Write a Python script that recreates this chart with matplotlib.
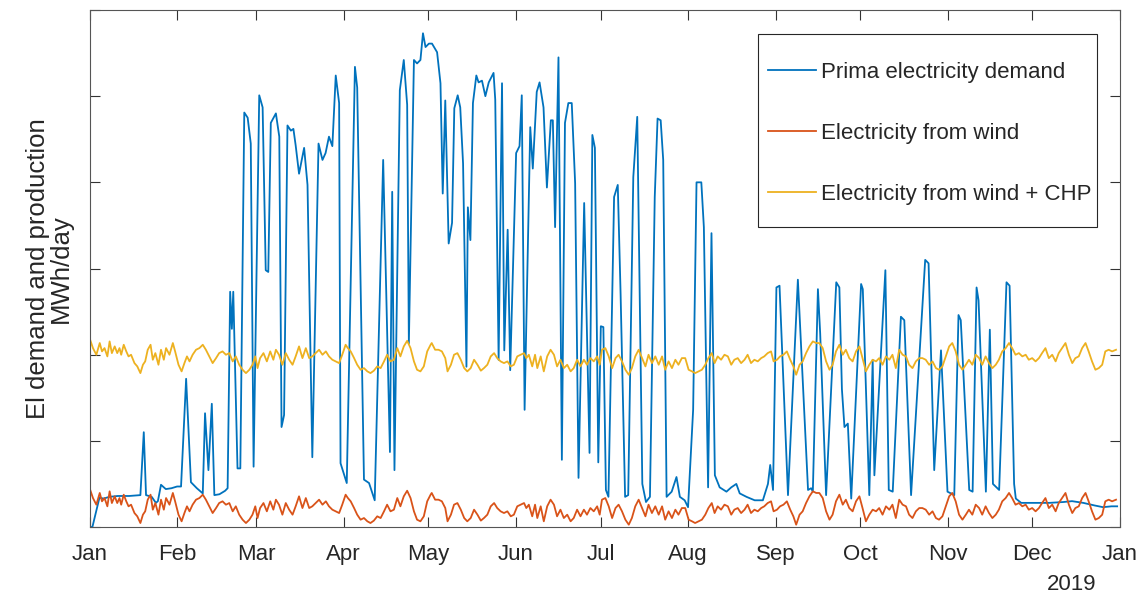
import matplotlib.pyplot as plt
from matplotlib.patches import Rectangle

plt.rcParams['font.family'] = ['Liberation Sans', 'DejaVu Sans']

months = ['Jan', 'Feb', 'Mar', 'Apr', 'May', 'Jun', 'Jul',
          'Aug', 'Sep', 'Oct', 'Nov', 'Dec', 'Jan']
month_start = [0, 31, 59, 90, 120, 151, 181, 212, 243, 273, 304, 334, 365]

# daily demand (day of year, MWh/day)
demand_day = [0.0, 1.0, 3.5, 5, 7, 10, 14, 18, 19.2, 20.0, 22, 23.5, 24.2, 25.3, 27, 29, 31, 32.4,
              34.2, 35.9, 38, 40.1, 40.9, 42.1, 43.3, 44.2, 46, 48, 48.9, 49.8, 50.4, 50.9, 52.4,
              53.4, 54.8, 56.0, 57.1, 58.1, 60.1, 61.3, 62.4, 63.3, 64.2, 66.0, 67.2, 68.0, 68.9,
              70.1, 71.3, 72.2, 73.0, 74.2, 76.0, 77.2, 78.9, 81.1, 82.5, 83.6, 84.8, 86.0, 87.2,
              88.4, 88.9, 91.1, 94.0, 94.8, 97.2, 99.0, 101.0, 104.0, 106.4, 107.2, 108.0, 109.9,
              111.3, 112.5, 113.1, 114.9, 116.0, 117.2, 118.1, 119.0, 120.2, 121.3, 123.1, 124.3,
              125.1, 126.0, 127.2, 128.4, 129.2, 130.4, 131.3, 132.3, 133.5, 134.0, 134.9, 135.8,
              137.0, 137.8, 139.0, 140.2, 141.4, 143.1, 143.7, 144.9, 146.1, 146.9, 148.1, 149.0,
              151.1, 152.3, 153.1, 154.1, 156.1, 157.0, 158.4, 159.4, 160.8, 162.0, 163.4, 164.1,
              164.9, 166.1, 167.3, 168.4, 169.6, 170.8, 172.0, 173.2, 175.2, 177.1, 178.1, 179.0,
              180.2, 181.1, 182.0, 182.9, 183.8, 185.8, 187.1, 188.1, 189.7, 190.8, 192.6, 194.0,
              195.8, 197.1, 198.5, 200.2, 201.2, 202.3, 203.2, 204.4, 206.2, 207.9, 209.1, 210.8,
              212.0, 213.8, 215.0, 216.7, 217.6, 219.1, 220.3, 221.5, 223.2, 225.6, 227.3, 229.1,
              230.3, 232.7, 235.6, 238.5, 240.3, 241.1, 242.1, 243.3, 244.4, 247.4, 250.9, 254.5,
              255.6, 256.2, 258.0, 258.8, 260.9, 264.5, 265.6, 266.5, 267.4, 268.6, 269.8, 273.3,
              273.9, 276.2, 277.4, 278.0, 281.9, 283.1, 284.5, 287.4, 288.6, 291.0, 296.0, 297.2,
              299.2, 301.6, 303.9, 306.3, 307.8, 308.6, 311.6, 312.8, 314.2, 314.9, 317.5, 318.9,
              320.0, 322.2, 324.8, 325.9, 327.5, 328.1, 330, 335, 340, 345, 348, 352, 356, 359,
              362, 364]
demand = [0.0, 0.0, 0.34, 0.33, 0.35, 0.36, 0.36, 0.37, 1.10, 0.37, 0.35, 0.28, 0.30, 0.49, 0.44,
          0.45, 0.47, 0.47, 1.72, 0.52, 0.45, 0.39, 1.32, 0.66, 1.43, 0.37, 0.38, 0.42, 0.45, 2.73,
          2.30, 2.73, 0.68, 0.68, 4.81, 4.75, 4.45, 0.70, 5.01, 4.87, 2.98, 2.96, 4.69, 4.80, 4.53,
          1.16, 1.30, 4.66, 4.60, 4.62, 4.43, 4.10, 4.40, 3.97, 0.81, 4.45, 4.26, 4.34, 4.53, 4.42,
          5.24, 4.92, 0.74, 0.51, 5.34, 5.10, 0.55, 0.51, 0.31, 4.26, 0.87, 3.89, 0.66, 5.07, 5.42,
          4.90, 2.13, 5.42, 5.38, 5.42, 5.73, 5.57, 5.61, 5.61, 5.51, 5.15, 3.87, 4.95, 3.29, 3.53,
          4.86, 5.01, 4.87, 4.22, 1.86, 3.71, 3.33, 4.92, 5.24, 5.16, 5.18, 5.00, 5.16, 5.27, 4.96,
          1.94, 5.15, 2.05, 3.45, 1.82, 4.34, 4.42, 5.01, 1.36, 4.64, 4.16, 5.05, 5.16, 4.87, 3.94,
          4.72, 4.72, 3.48, 5.45, 0.78, 4.69, 4.92, 4.92, 3.99, 0.57, 3.76, 0.86, 4.55, 4.40, 0.75,
          2.33, 2.32, 0.43, 0.35, 3.83, 3.97, 2.71, 0.35, 0.37, 4.06, 4.76, 0.50, 0.29, 0.35, 3.83,
          4.74, 4.72, 4.26, 0.35, 0.41, 0.58, 0.35, 0.31, 0.23, 1.36, 4.00, 4.00, 3.48, 0.46, 3.41,
          0.60, 0.46, 0.41, 0.46, 0.50, 0.39, 0.35, 0.31, 0.31, 0.50, 0.72, 0.43, 2.78, 2.80, 0.37,
          2.87, 0.43, 0.45, 0.41, 2.76, 2.25, 0.37, 2.84, 2.78, 1.60, 1.16, 1.20, 0.33, 2.82, 2.76,
          0.37, 1.94, 0.60, 2.98, 0.43, 0.41, 2.44, 2.40, 0.37, 3.10, 3.06, 0.66, 2.05, 0.41, 0.37,
          2.46, 2.40, 0.43, 0.41, 2.78, 2.63, 0.41, 2.29, 0.50, 0.43, 2.84, 2.80, 0.50, 0.33, 0.28,
          0.28, 0.28, 0.29, 0.30, 0.28, 0.25, 0.23, 0.24, 0.24]

# wind production (day of year, MWh/day)
wind_day = [0.0, 1.2, 2.4, 3.6, 4.4, 5.3, 6.3, 7.1, 7.9, 8.9, 9.8, 10.6, 11.2, 12.1, 13.0, 13.8,
            14.7, 15.9, 16.9, 18.0, 18.9, 19.7, 20.6, 21.6, 22.4, 23.3, 24.4, 25.3, 26.3, 27.1,
            28.3, 29.5, 30.3, 31.5, 32.6, 33.6, 34.5, 35.4, 36.5, 37.7, 38.9, 40.1, 41.2, 42.4,
            43.6, 44.8, 45.9, 47.1, 48.3, 49.5, 50.7, 51.8, 53.0, 54.2, 55.4, 56.6, 57.7, 58.7,
            59.5, 60.4, 61.6, 62.8, 64.0, 65.1, 66.0, 67.1, 68.3, 69.5, 70.7, 71.9, 73.0, 74.2,
            75.4, 76.6, 77.8, 78.9, 80.1, 81.3, 82.5, 83.7, 84.8, 86.0, 87.2, 88.4, 89.5, 90.7,
            91.5, 92.5, 93.7, 94.8, 96.0, 97.2, 98.4, 99.5, 100.7, 101.9, 103.1, 104.3, 105.4,
            106.6, 107.8, 109.0, 110.1, 111.3, 112.5, 113.7, 114.9, 116.0, 117.2, 118.4, 119.6,
            120.8, 121.2, 122.4, 123.6, 124.8, 126.0, 126.8, 128.0, 129.1, 130.3, 131.5, 132.7,
            133.8, 135.0, 136.2, 137.4, 138.6, 139.7, 140.9, 142.1, 143.3, 144.4, 145.6, 146.8,
            148.0, 149.2, 150.3, 151.5, 152.7, 153.9, 154.7, 155.6, 156.8, 157.8, 158.6, 159.8,
            160.9, 162.1, 163.3, 164.5, 165.6, 166.8, 168.0, 169.2, 170.4, 171.5, 172.7, 173.9,
            175.1, 176.2, 177.4, 178.6, 179.8, 180.7, 181.5, 182.7, 183.9, 185.1, 186.3, 187.4,
            188.6, 189.8, 191.0, 192.1, 193.3, 194.5, 195.7, 196.9, 198.0, 199.2, 200.4, 201.6,
            202.8, 203.9, 205.1, 206.3, 207.5, 208.6, 209.8, 211.0, 212.2, 213.4, 214.5, 215.7,
            216.9, 218.1, 219.2, 220.4, 221.4, 222.5, 223.7, 224.9, 226.1, 227.3, 228.4, 229.6,
            230.8, 232.0, 233.1, 234.3, 235.5, 236.7, 237.9, 239.0, 240.2, 241.4, 242.3, 243.5,
            244.6, 245.8, 247.0, 248.2, 249.3, 250.3, 251.5, 252.6, 253.8, 255.0, 256.2, 257.4,
            258.5, 259.7, 260.9, 262.1, 263.2, 264.4, 265.6, 266.8, 267.9, 269.1, 270.3, 271.5,
            272.7, 273.8, 275.0, 276.2, 277.4, 278.6, 279.7, 280.9, 282.1, 283.3, 284.4, 285.6,
            286.8, 288.0, 289.2, 290.3, 291.5, 292.7, 293.9, 295.0, 296.2, 297.4, 298.6, 299.8,
            300.9, 302.1, 303.3, 304.5, 305.6, 306.8, 308.0, 309.2, 310.4, 311.5, 312.7, 313.9,
            315.1, 316.2, 317.4, 318.6, 319.8, 321.0, 322.1, 323.3, 324.5, 325.7, 326.8, 328.0,
            329.2, 330.4, 331.6, 332.7, 333.9, 335.1, 336.3, 337.4, 338.6, 339.8, 341.0, 342.2,
            343.3, 344.5, 345.7, 346.9, 348.1, 349.2, 350.4, 351.6, 352.8, 353.9, 355.1, 356.3,
            357.5, 358.7, 359.8, 361.0, 362.2, 363.6]
wind = [0.452, 0.336, 0.259, 0.395, 0.298, 0.336, 0.240, 0.414, 0.278, 0.356, 0.278, 0.336, 0.259,
        0.375, 0.298, 0.240, 0.259, 0.162, 0.124, 0.046, 0.143, 0.182, 0.317, 0.375, 0.201, 0.278,
        0.143, 0.317, 0.201, 0.336, 0.259, 0.395, 0.298, 0.143, 0.066, 0.162, 0.240, 0.182, 0.259,
        0.317, 0.336, 0.375, 0.317, 0.240, 0.162, 0.220, 0.278, 0.298, 0.259, 0.278, 0.182, 0.240,
        0.143, 0.085, 0.046, 0.085, 0.143, 0.240, 0.104, 0.220, 0.278, 0.182, 0.298, 0.201, 0.317,
        0.259, 0.143, 0.278, 0.201, 0.143, 0.240, 0.356, 0.220, 0.336, 0.220, 0.240, 0.278, 0.317,
        0.259, 0.298, 0.240, 0.201, 0.182, 0.162, 0.259, 0.375, 0.336, 0.298, 0.220, 0.143, 0.085,
        0.104, 0.066, 0.046, 0.074, 0.124, 0.104, 0.182, 0.259, 0.182, 0.201, 0.336, 0.240, 0.356,
        0.421, 0.336, 0.182, 0.085, 0.066, 0.124, 0.298, 0.375, 0.395, 0.317, 0.317, 0.298, 0.220,
        0.066, 0.143, 0.259, 0.278, 0.201, 0.104, 0.066, 0.104, 0.201, 0.143, 0.074, 0.104, 0.143,
        0.240, 0.278, 0.220, 0.182, 0.162, 0.182, 0.124, 0.143, 0.240, 0.259, 0.278, 0.220, 0.259,
        0.124, 0.259, 0.104, 0.240, 0.066, 0.240, 0.317, 0.259, 0.124, 0.201, 0.104, 0.143, 0.066,
        0.104, 0.201, 0.124, 0.201, 0.143, 0.220, 0.182, 0.240, 0.143, 0.317, 0.336, 0.240, 0.104,
        0.220, 0.259, 0.182, 0.085, 0.027, 0.104, 0.240, 0.317, 0.220, 0.124, 0.259, 0.162, 0.240,
        0.143, 0.240, 0.085, 0.182, 0.104, 0.201, 0.143, 0.220, 0.220, 0.085, 0.066, 0.046, 0.066,
        0.085, 0.143, 0.220, 0.278, 0.162, 0.240, 0.201, 0.259, 0.240, 0.143, 0.201, 0.220, 0.162,
        0.201, 0.259, 0.162, 0.201, 0.182, 0.220, 0.240, 0.278, 0.298, 0.182, 0.201, 0.240, 0.259,
        0.298, 0.201, 0.124, 0.027, 0.143, 0.182, 0.278, 0.356, 0.414, 0.395, 0.395, 0.336, 0.182,
        0.085, 0.143, 0.298, 0.375, 0.259, 0.317, 0.220, 0.182, 0.298, 0.356, 0.220, 0.066, 0.143,
        0.201, 0.182, 0.220, 0.143, 0.240, 0.201, 0.259, 0.104, 0.317, 0.259, 0.240, 0.143, 0.104,
        0.182, 0.220, 0.220, 0.201, 0.143, 0.182, 0.104, 0.085, 0.124, 0.240, 0.356, 0.395, 0.298,
        0.143, 0.085, 0.143, 0.201, 0.143, 0.259, 0.220, 0.143, 0.240, 0.162, 0.104, 0.143, 0.201,
        0.298, 0.336, 0.395, 0.336, 0.259, 0.278, 0.240, 0.259, 0.201, 0.220, 0.182, 0.220, 0.278,
        0.336, 0.220, 0.259, 0.182, 0.278, 0.336, 0.395, 0.259, 0.162, 0.220, 0.240, 0.336, 0.395,
        0.298, 0.182, 0.085, 0.104, 0.143, 0.298, 0.317, 0.298, 0.317]

# CHP output is flat over the year
chp = 1.74
wind_chp = [w + chp for w in wind]

fig = plt.figure(figsize=(11.44, 5.99), dpi=100)
ax = fig.add_axes([0.0783, 0.1202, 0.9007, 0.8631])

ax.plot(demand_day, demand, color='#0072BD', lw=1.3, label='Prima electricity demand')
ax.plot(wind_day, wind, color='#D95319', lw=1.3, label='Electricity from wind')
ax.plot(wind_day, wind_chp, color='#EDB120', lw=1.3, label='Electricity from wind + CHP')

ax.set_xlim(0, 365)
ax.set_ylim(0, 6)
ax.set_xticks(month_start)
ax.set_xticklabels(months)
ax.set_yticks(range(7))
ax.set_yticklabels([])
ax.tick_params(direction='in', top=True, right=True, length=7, width=0.8,
               color='#333333', labelsize=16, labelcolor='#262626', pad=12)
for s in ax.spines.values():
    s.set_color('#555555')
    s.set_linewidth(0.8)

ax.set_ylabel('El demand and production\nMWh/day', fontsize=18.5, color='#262626',
              labelpad=0, linespacing=0.95)
fig.text(1072 / 1144, 1 - 585 / 599, '2019', ha='center', va='center',
         fontsize=16, color='#262626')

# legend box drawn separately so the entries can sit with wide row spacing
box = Rectangle((0.6487, 0.5803), 0.329, 0.3733, transform=ax.transAxes,
                facecolor='white', edgecolor='#262626', lw=0.8, zorder=4)
ax.add_patch(box)
leg = ax.legend(loc='upper left', bbox_to_anchor=(0.6584, 0.900), fontsize=16,
                frameon=False, handlelength=2.15, labelspacing=1.8,
                handletextpad=0.25, borderpad=0, borderaxespad=0)
leg.set_zorder(5)
for t in leg.get_texts():
    t.set_color('#262626')

fig.savefig('out.png', dpi=100)
